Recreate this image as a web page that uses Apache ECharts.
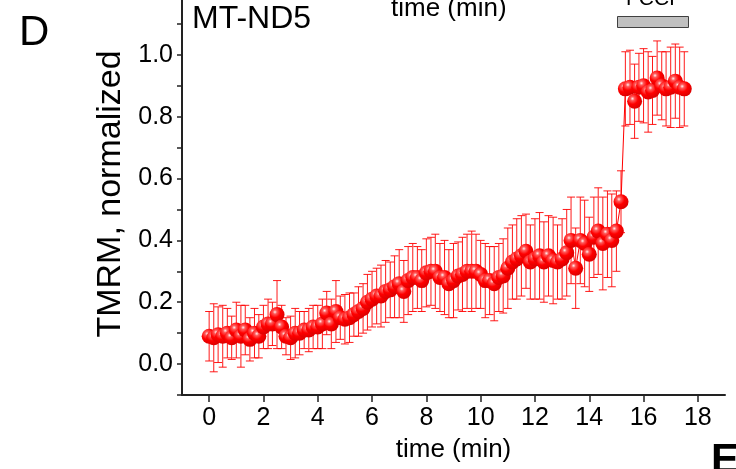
<!DOCTYPE html>
<html>
<head>
<meta charset="utf-8">
<script src="https://cdn.jsdelivr.net/npm/echarts@6/dist/echarts.min.js"></script>
<style>
html,body{margin:0;padding:0;background:#fff;}
#chart{width:736px;height:469px;}
</style>
</head>
<body>
<div id="chart"></div>
<script>
// time points (min)
var times = [0.00,0.17,0.33,0.50,0.67,0.83,1.00,1.17,1.33,1.50,1.67,1.83,
  2.00,2.17,2.33,2.50,2.67,2.83,3.00,3.17,3.33,3.50,3.67,3.83,
  4.00,4.17,4.33,4.50,4.67,4.83,5.00,5.17,5.33,5.50,5.67,5.83,
  6.00,6.17,6.33,6.50,6.67,6.83,7.00,7.17,7.33,7.50,7.67,7.83,
  8.00,8.17,8.33,8.50,8.67,8.83,9.00,9.17,9.33,9.50,9.67,9.83,
  10.00,10.17,10.33,10.50,10.67,10.83,11.00,11.17,11.33,11.50,11.67,11.83,
  12.00,12.17,12.33,12.50,12.67,12.83,13.00,13.17,13.33,13.50,13.67,13.83,
  14.00,14.17,14.33,14.50,14.67,14.83,15.00,15.17,15.33,15.50,15.67,15.83,
  16.00,16.17,16.33,16.50,16.67,16.83,17.00,17.17,17.33,17.50];
// TMRM normalized mean
var tmrm = [0.09,0.085,0.095,0.09,0.10,0.085,0.11,0.09,0.11,0.08,0.10,0.09,
  0.12,0.13,0.13,0.16,0.12,0.09,0.085,0.10,0.10,0.11,0.11,0.12,
  0.12,0.13,0.165,0.13,0.17,0.15,0.145,0.15,0.16,0.17,0.18,0.20,
  0.21,0.22,0.22,0.235,0.24,0.25,0.26,0.235,0.27,0.28,0.28,0.27,
  0.295,0.30,0.30,0.28,0.28,0.26,0.27,0.285,0.29,0.30,0.30,0.30,
  0.29,0.27,0.27,0.26,0.28,0.285,0.31,0.33,0.34,0.35,0.365,0.33,
  0.34,0.35,0.33,0.35,0.335,0.33,0.34,0.36,0.40,0.31,0.40,0.39,
  0.355,0.41,0.43,0.39,0.42,0.40,0.43,0.525,0.89,0.895,0.85,0.895,
  0.90,0.88,0.885,0.925,0.90,0.89,0.895,0.915,0.895,0.89];
// error (+/-)
var errs = [0.08,0.11,0.09,0.10,0.08,0.07,0.09,0.10,0.08,0.07,0.08,0.07,
  0.07,0.08,0.07,0.11,0.07,0.06,0.07,0.08,0.07,0.06,0.07,0.07,
  0.07,0.08,0.07,0.08,0.10,0.07,0.08,0.08,0.07,0.08,0.08,0.09,
  0.09,0.09,0.10,0.10,0.09,0.10,0.11,0.10,0.11,0.11,0.10,0.10,
  0.11,0.11,0.12,0.11,0.12,0.11,0.12,0.11,0.12,0.12,0.13,0.12,
  0.11,0.12,0.11,0.12,0.11,0.12,0.13,0.12,0.13,0.13,0.12,0.12,
  0.13,0.14,0.13,0.13,0.14,0.12,0.13,0.14,0.14,0.13,0.14,0.14,
  0.12,0.13,0.14,0.15,0.14,0.15,0.13,0.10,0.12,0.12,0.12,0.11,
  0.12,0.13,0.11,0.12,0.11,0.12,0.13,0.12,0.13,0.12];
var xMajorTicks = [0,2,4,6,8,10,12,14,16,18];
var xMinorTicks = [-1,1,3,5,7,9,11,13,15,17,19];

var FONT = '"Liberation Sans", Arial, sans-serif';
var points = times.map(function(t,i){ return [t, tmrm[i]]; });
var bars = times.map(function(t,i){ return [t, tmrm[i]-errs[i], tmrm[i]+errs[i]]; });

var chart = echarts.init(document.getElementById('chart'), null, {renderer:'canvas'});
var axisColor = '#222';
chart.setOption({
  animation:false,
  backgroundColor:'#fff',
  grid:{left:182,right:11,top:-7,bottom:74,containLabel:false,outerBoundsMode:'none'},
  xAxis:[{
    type:'value', min:-1, max:19, interval:1,
    axisLine:{show:true,onZero:false,lineStyle:{color:axisColor,width:2}},
    axisTick:{show:true,length:7,customValues:xMajorTicks,lineStyle:{color:axisColor,width:1.5}},
    axisLabel:{show:true,customValues:xMajorTicks,margin:11,color:'#000',fontSize:25,fontFamily:FONT},
    splitLine:{show:false},
    name:'time (min)', nameLocation:'middle', nameGap:42,
    nameTextStyle:{color:'#000',fontSize:26,fontFamily:FONT}
  },{
    type:'value', min:-1, max:19, interval:1,
    axisLine:{show:false,onZero:false},
    axisTick:{show:true,length:4,customValues:xMinorTicks,lineStyle:{color:axisColor,width:1.5}},
    axisLabel:{show:false},
    splitLine:{show:false}
  }],
  yAxis:{
    type:'value', min:-0.1, max:1.2, interval:0.1,
    axisLine:{show:true,onZero:false,lineStyle:{color:axisColor,width:2}},
    axisTick:{show:true,length:5,lineStyle:{color:axisColor,width:1.5}},
    axisLabel:{margin:9,color:'#000',fontSize:25,fontFamily:FONT,showMaxLabel:true,hideOverlap:false,
      formatter:function(v){ var k=Math.round(v*10); return (k%2===0)? (k/10).toFixed(1) : ''; }},
    splitLine:{show:false},
    name:'TMRM, normalized', nameLocation:'middle', nameGap:49,
    nameTextStyle:{color:'#000',fontSize:34,fontFamily:FONT}
  },
  series:[{
    type:'custom',
    z:1,
    data:bars,
    renderItem:function(params, api){
      var x = api.value(0), lo = api.value(1), hi = api.value(2);
      var pLo = api.coord([x, lo]), pHi = api.coord([x, hi]);
      var cw = 4;
      var st = {stroke:'rgba(255,0,0,0.9)', lineWidth:1};
      return {type:'group', children:[
        {type:'line', shape:{x1:pLo[0],y1:pLo[1],x2:pHi[0],y2:pHi[1]}, style:st},
        {type:'line', shape:{x1:pLo[0]-cw,y1:pLo[1],x2:pLo[0]+cw,y2:pLo[1]}, style:st},
        {type:'line', shape:{x1:pHi[0]-cw,y1:pHi[1],x2:pHi[0]+cw,y2:pHi[1]}, style:st}
      ]};
    },
    silent:true
  },{
    type:'line',
    z:3,
    data:points,
    symbol:'circle',
    symbolSize:15,
    lineStyle:{color:'#ff0000',width:1},
    itemStyle:{
      color:{type:'radial',x:0.36,y:0.33,r:0.67,colorStops:[
        {offset:0,color:'#fff0f0'},{offset:0.2,color:'#ff5a5a'},{offset:0.55,color:'#ff0000'},{offset:1,color:'#dd0000'}]},
      borderWidth:0
    },
    silent:true
  }],
  graphic:[
    {type:'text', left:19, top:12, style:{text:'D', font:'42px '+FONT, fill:'#000'}},
    {type:'text', left:192, top:3, style:{text:'MT-ND5', font:'32px '+FONT, fill:'#000'}},
    {type:'text', left:391, top:-4, style:{text:'time (min)', font:'26px '+FONT, fill:'#000'}},
    {type:'text', left:626, top:-11, style:{text:'FCCP', font:'21px '+FONT, fill:'#000'}},
    {type:'rect', left:617, top:16, shape:{width:71,height:11}, style:{fill:'#c0c0c0', stroke:'#404040', lineWidth:1}},
    {type:'text', left:711, top:440, style:{text:'E', font:'bold 42px '+FONT, fill:'#000'}}
  ]
});
</script>
</body>
</html>
